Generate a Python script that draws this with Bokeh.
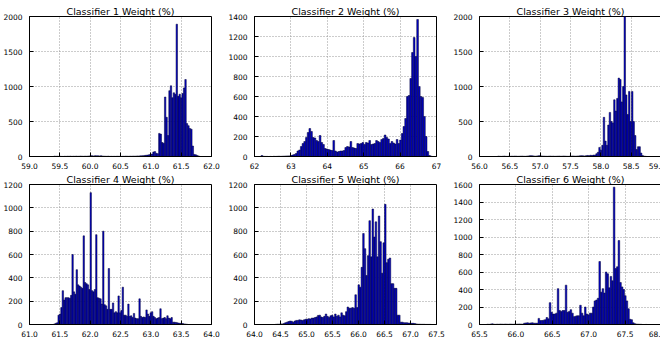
import numpy as np
from bokeh.plotting import figure
from bokeh.layouts import gridplot, column
from bokeh.models import Range1d, SingleIntervalTicker, PrintfTickFormatter, Spacer
from bokeh.embed import file_html
from bokeh.resources import INLINE

# ---------------- data ----------------
titles = ["Classifier 1 Weight (%)", "Classifier 2 Weight (%)", "Classifier 3 Weight (%)",
          "Classifier 4 Weight (%)", "Classifier 5 Weight (%)", "Classifier 6 Weight (%)"]

# histogram bins: first edge and bin width of each panel
bin_start = [59.40, 62.18, 56.30, 61.40, 64.40, 65.60]
bin_width = [0.024, 0.047, 0.0245, 0.023, 0.030, 0.022]

counts1 = [5, 3, 4, 2, 3, 2, 1, 3, 2, 4,
           3, 5, 2, 4, 3, 5, 3, 4, 6, 4,
           3, 5, 4, 6, 8, 12, 10, 8, 12, 9,
           10, 8, 11, 6, 5, 4, 3, 5, 2, 3,
           2, 3, 2, 4, 3, 3, 2, 4, 3, 5,
           4, 3, 5, 4, 6, 5, 6, 8, 7, 9,
           10, 12, 15, 18, 20, 25, 30, 35, 65, 70,
           45, 40, 330, 320, 200, 190, 850, 560, 300, 940,
           1010, 840, 910, 890, 1890, 860, 890, 840, 900, 980,
           1100, 470, 440, 400, 390, 150, 30, 25, 15, 8]

counts2 = [10, 2, 1, 1, 0, 1, 0, 2, 1, 2,
           3, 2, 3, 4, 5, 6, 6, 10, 15, 20,
           30, 55, 65, 100, 130, 150, 190, 240, 280, 250,
           190, 185, 160, 150, 210, 140, 120, 80, 75, 70,
           65, 60, 160, 55, 45, 50, 55, 55, 60, 90,
           100, 95, 150, 90, 85, 80, 130, 125, 130, 140,
           120, 140, 135, 160, 120, 125, 130, 160, 150, 140,
           170, 180, 215, 190, 175, 130, 150, 135, 125, 170,
           130, 165, 230, 300, 380, 600, 610, 780, 1040, 1190,
           1000, 1370, 700, 600, 590, 400, 200, 50, 10, 3]

counts3 = [5, 3, 2, 4, 6, 3, 2, 4, 3, 5,
           4, 6, 5, 3, 4, 5, 6, 4, 3, 5,
           8, 10, 12, 9, 7, 5, 8, 10, 12, 8,
           6, 5, 4, 3, 5, 6, 4, 5, 3, 4,
           5, 6, 4, 5, 7, 5, 4, 3, 5, 6,
           8, 6, 5, 7, 8, 10, 12, 9, 8, 12,
           15, 12, 18, 15, 20, 20, 40, 60, 130, 90,
           160, 560, 220, 160, 450, 630, 500, 480, 810, 650,
           830, 1120, 1100, 780, 1000, 2000, 880, 600, 930, 500,
           930, 500, 300, 100, 140, 140, 50, 15, 5, 3]

counts4 = [5, 10, 15, 80, 90, 145, 290, 210, 230, 230,
           230, 225, 250, 600, 280, 260, 470, 340, 330, 320,
           310, 760, 360, 350, 340, 300, 1130, 290, 280, 300,
           770, 230, 225, 220, 175, 800, 170, 160, 130, 480,
           130, 130, 185, 100, 110, 100, 245, 100, 120, 320,
           80, 80, 70, 175, 70, 75, 60, 95, 55, 50,
           50, 220, 70, 60, 65, 60, 125, 90, 70, 100,
           110, 70, 60, 50, 55, 60, 135, 50, 55, 60,
           50, 75, 55, 50, 60, 20, 20, 18, 15, 12,
           10, 10, 8, 5, 4, 2, 0, 0, 0, 0]

counts5 = [2, 3, 3, 5, 5, 8, 15, 20, 25, 30,
           28, 20, 30, 35, 35, 40, 38, 35, 40, 45,
           45, 50, 48, 55, 55, 60, 65, 78, 80, 65,
           60, 70, 90, 70, 60, 75, 80, 65, 90, 70,
           80, 65, 100, 80, 75, 110, 150, 140, 140, 145,
           140, 255, 145, 340, 320, 490, 780, 650, 420, 590,
           890, 580, 990, 750, 880, 580, 930, 710, 440, 700,
           1030, 530, 560, 570, 350, 350, 310, 310, 80, 80,
           20, 20, 15, 15, 15, 12, 12, 10, 10, 8,
           5, 3, 3, 2, 2, 2, 1, 1, 1, 1]

counts6 = [3, 2, 5, 8, 3, 2, 4, 3, 5, 4,
           3, 5, 4, 3, 5, 4, 3, 5, 4, 5,
           6, 5, 4, 15, 18, 20, 15, 18, 20, 15,
           15, 15, 70, 45, 45, 50, 55, 80, 65, 250,
           140, 120, 120, 130, 410, 160, 150, 160, 160, 450,
           140, 150, 170, 130, 90, 95, 100, 100, 220, 130,
           100, 200, 120, 110, 130, 130, 200, 270, 280, 300,
           720, 370, 410, 360, 600, 580, 420, 550, 500, 1570,
           640, 660, 960, 480, 430, 400, 330, 270, 180, 60,
           55, 20, 10, 5, 4, 3, 2, 0, 0, 1]

all_counts = [counts1, counts2, counts3, counts4, counts5, counts6]

x_ranges = [(59.0, 62.0), (62.0, 67.0), (56.0, 59.0), (61.0, 64.0), (64.0, 67.5), (65.5, 68.0)]
x_tick_step = [0.5, 1.0, 0.5, 0.5, 0.5, 0.5]
x_tick_fmt = ["%.1f", "%d", "%.1f", "%.1f", "%.1f", "%.1f"]
y_max = [2000, 1400, 2000, 1200, 1200, 1600]
y_tick_step = [500, 200, 500, 200, 200, 200]

# ---------------- plotting ----------------
FONT = "DejaVu Sans"


def make_panel(k):
    col = k % 3
    row = k // 3
    right_border = 4 if col == 2 else 14
    bottom_border = 15 if row == 0 else 10
    p = figure(output_backend="svg", toolbar_location=None,
               frame_width=182, frame_height=140,
               min_border_left=22, min_border_right=right_border,
               min_border_top=13, min_border_bottom=bottom_border,
               x_range=Range1d(*x_ranges[k]), y_range=Range1d(0, y_max[k]),
               title=titles[k])
    c = np.array(all_counts[k], dtype=float)
    left = bin_start[k] + bin_width[k] * np.arange(len(c))
    right = left + bin_width[k]
    p.quad(left=left, right=right, bottom=0, top=c,
           fill_color="#0000cc", line_color="#000030", line_width=0.5)

    p.title.text_font = FONT
    p.title.text_font_size = "9.5px"
    p.title.text_font_style = "normal"
    p.title.text_color = "#000000"
    p.title.align = "center"
    p.title.standoff = 0

    p.xaxis.ticker = SingleIntervalTicker(interval=x_tick_step[k])
    p.xaxis.formatter = PrintfTickFormatter(format=x_tick_fmt[k])
    p.yaxis.ticker = SingleIntervalTicker(interval=y_tick_step[k])
    p.yaxis.formatter = PrintfTickFormatter(format="%d")
    for ax in (p.xaxis, p.yaxis):
        ax.major_label_text_font = FONT
        ax.major_label_text_font_size = "7.5px"
        ax.major_label_text_color = "#000000"
        ax.major_label_standoff = 3
        ax.major_tick_in = 4
        ax.major_tick_out = 0
        ax.minor_tick_line_color = None
        ax.axis_line_color = "#000000"
        ax.major_tick_line_color = "#000000"
    p.xaxis.major_label_standoff = 2

    p.grid.grid_line_color = "#999999"
    p.grid.grid_line_dash = "1 2"
    p.grid.grid_line_width = 1
    p.outline_line_color = "#000000"
    p.outline_line_width = 1
    p.background_fill_color = "white"
    p.border_fill_color = "white"
    return p


panels = [make_panel(k) for k in range(6)]
grid = gridplot([panels[0:3], panels[3:6]], toolbar_location=None)
layout = column(Spacer(height=3), grid, spacing=0)

open("out.html", "w").write(file_html(layout, INLINE))
